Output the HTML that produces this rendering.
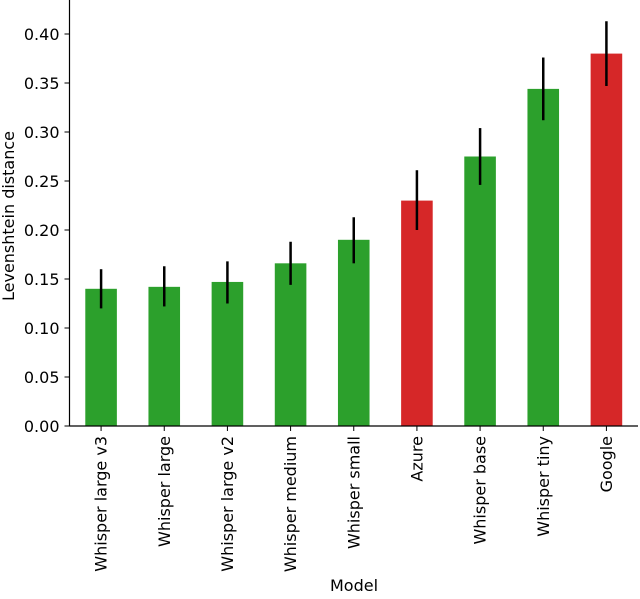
<!DOCTYPE html>
<html><head><meta charset="utf-8"><style>
body{margin:0;background:#fff;}
svg text{font-family:"DejaVu Sans","Liberation Sans",sans-serif;fill:#000;}
</style></head><body>
<svg id="chart" width="640" height="594" viewBox="0 0 640 594" xmlns="http://www.w3.org/2000/svg">
<g id="bars"></g>
<g id="axes"></g>
</svg>
<script>
const categories=["Whisper large v3","Whisper large","Whisper large v2","Whisper medium","Whisper small","Azure","Whisper base","Whisper tiny","Google"];
const values=[0.140,0.142,0.147,0.166,0.190,0.230,0.275,0.344,0.380];
const errLow=[0.120,0.122,0.125,0.144,0.166,0.200,0.246,0.312,0.347];
const errHigh=[0.160,0.163,0.168,0.188,0.213,0.261,0.304,0.376,0.413];
const colors=["#2ca02c","#2ca02c","#2ca02c","#2ca02c","#2ca02c","#d62728","#2ca02c","#2ca02c","#d62728"];
const yTicks=[0,0.05,0.10,0.15,0.20,0.25,0.30,0.35,0.40];
const yTickLabels=["0.00","0.05","0.10","0.15","0.20","0.25","0.30","0.35","0.40"];

const NS="http://www.w3.org/2000/svg";
const L=69.5,R=638,T=0,B=426;
const step=(R-L)/categories.length;
const x=i=>L+step*(i+0.5);
const y=v=>B-(v/0.40)*(B-34);
function mk(tag,attrs,parent){const e=document.createElementNS(NS,tag);for(const k in attrs)e.setAttribute(k,attrs[k]);parent.appendChild(e);return e;}
const bars=document.getElementById('bars'),axes=document.getElementById('axes');
const bw=step*0.5;
categories.forEach((c,i)=>{
 const r=mk('rect',{x:x(i)-bw/2,y:y(values[i]),width:bw,height:B-y(values[i]),fill:colors[i]},bars);
 
 
 const l=mk('line',{x1:x(i),x2:x(i),y1:y(errLow[i]),y2:y(errHigh[i]),stroke:'#000','stroke-width':2.5},bars);
 
 
 mk('line',{x1:x(i),x2:x(i),y1:B,y2:B+5,stroke:'#000','stroke-width':1},axes);
 const tx=mk('text',{x:0,y:0,'font-size':16,'text-anchor':'end',transform:`translate(${x(i)+5.5},${B+10}) rotate(-90)`},axes);
 tx.textContent=c;
 
 
});
yTicks.forEach((v,i)=>{
 mk('line',{x1:L-5,x2:L,y1:y(v),y2:y(v),stroke:'#000','stroke-width':1},axes);
 const t=mk('text',{x:L-10,y:y(v)+6,'font-size':16,'text-anchor':'end'},axes);
 t.textContent=yTickLabels[i];
 
 
});
const ya=mk('line',{x1:L,x2:L,y1:T,y2:B,stroke:'#000','stroke-width':1.2},axes);


const xa=mk('line',{x1:L,x2:R,y1:B,y2:B,stroke:'#000','stroke-width':1.2},axes);


const yt=mk('text',{x:0,y:0,'font-size':16,'text-anchor':'middle',transform:'translate(14,216) rotate(-90)'},axes);
yt.textContent='Levenshtein distance';


const xt=mk('text',{x:354,y:591,'font-size':16,'text-anchor':'middle'},axes);
xt.textContent='Model';


</script>
</body></html>
